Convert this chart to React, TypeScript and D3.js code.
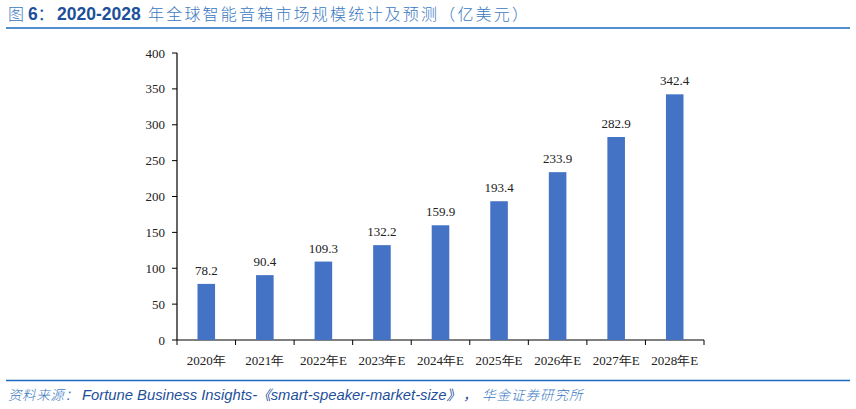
import React from "react";
import * as d3 from "d3";

const categories = ["2020年", "2021年", "2022年E", "2023年E", "2024年E", "2025年E", "2026年E", "2027年E", "2028年E"];
const values = [78.2, 90.4, 109.3, 132.2, 159.9, 193.4, 233.9, 282.9, 342.4];
const yTicks = [0, 50, 100, 150, 200, 250, 300, 350, 400];

const W = 856;
const H = 409;
const left = 177;
const right = 704;
const top = 53;
const bottom = 340;

export default function App() {
  const x = d3.scaleBand<string>().domain(categories).range([left, right]).paddingInner(0.7).paddingOuter(0.35);
  const xb = d3.scaleBand<string>().domain(categories).range([left, right]);
  const y = d3.scaleLinear().domain([0, 400]).range([bottom, top]);
  const serif = "'Liberation Serif', 'Times New Roman', serif";
  const sans = "'Liberation Sans', Arial, sans-serif";
  const cjk = "'Noto Sans CJK SC', sans-serif";
  const boundaries = categories.map((c) => xb(c) as number).concat([right]);
  return (
    <svg width={W} height={H} style={{ position: "absolute", left: 0, top: 0, background: "#fff" }}>
      <text x={8} y={20} fontSize={16} fill="#1f5aa6">
        <tspan fontFamily={cjk} fontWeight={300} fill="#3a78c0" fontSize={16}>图</tspan>
        <tspan x={28} fontFamily={sans} fontWeight="bold" fill="#1d4f9a" fontSize={17.5}>6</tspan>
        <tspan fontFamily={cjk} fill="#1d4f9a" fontSize={16}>：</tspan>
        <tspan x={57} fontFamily={sans} fontWeight="bold" fill="#1d4f9a" fontSize={17.5}>2020-2028</tspan>
        <tspan x={148} fontFamily={cjk} fontWeight={300} fill="#3a78c0" fontSize={16} letterSpacing={2.2}>年全球智能音箱市场规模统计及预测（亿美元）</tspan>
      </text>
      <line x1={6} x2={850} y1={28} y2={28} stroke="#1a6bbd" strokeWidth={1.5} />

      {yTicks.map((t) => (
        <g key={t}>
          <line x1={left - 5} x2={left} y1={y(t)} y2={y(t)} stroke="#000" strokeWidth={1} />
          <text x={left - 12} y={y(t)} dy="0.35em" textAnchor="end" fontFamily={serif} fontSize={13} fill="#222">{t}</text>
        </g>
      ))}
      <line x1={left} x2={left} y1={top} y2={bottom} stroke="#000" strokeWidth={1.2} />
      <line x1={left} x2={right} y1={bottom} y2={bottom} stroke="#000" strokeWidth={1.2} />
      {boundaries.map((b, i) => (
        <line key={i} x1={b} x2={b} y1={bottom} y2={bottom + 5} stroke="#000" strokeWidth={1} />
      ))}

      {categories.map((c, i) => {
        const bx = x(c) as number;
        const bw = x.bandwidth();
        const cx = (xb(c) as number) + xb.bandwidth() / 2;
        return (
          <g key={c}>
            <rect x={bx} y={y(values[i])} width={bw} height={bottom - y(values[i])} fill="#4472c4" />
            <text x={cx} y={y(values[i]) - 9} textAnchor="middle" fontFamily={serif} fontSize={13} fill="#222">{values[i].toFixed(1)}</text>
            <text x={cx} y={bottom + 20} dy="0.35em" textAnchor="middle" fontFamily={serif} fontSize={13} fill="#222">{c}</text>
          </g>
        );
      })}

      <line x1={6} x2={850} y1={380.5} y2={380.5} stroke="#1a6bbd" strokeWidth={1.5} />
      <text x={8} y={400} fontSize={14.8} fill="#1d4f9a" fontStyle="italic">
        <tspan fontFamily={cjk} fontWeight={300} fill="#3a78c0" fontSize={13.5} letterSpacing={0.6}>资料来源：</tspan>
        <tspan x={82} fontFamily={sans}>Fortune Business Insights-</tspan>
        <tspan fontFamily={cjk} fontSize={13.5}>《</tspan>
        <tspan fontFamily={sans}>smart-speaker-market-size</tspan>
        <tspan fontFamily={cjk} fontSize={13.5}>》</tspan>
        <tspan x={463} fontFamily={cjk} fontSize={13.5}>，</tspan>
        <tspan x={482} fontFamily={cjk} fontWeight={300} fill="#3a78c0" fontSize={13.5} letterSpacing={1}>华金证券研究所</tspan>
      </text>
    </svg>
  );
}
